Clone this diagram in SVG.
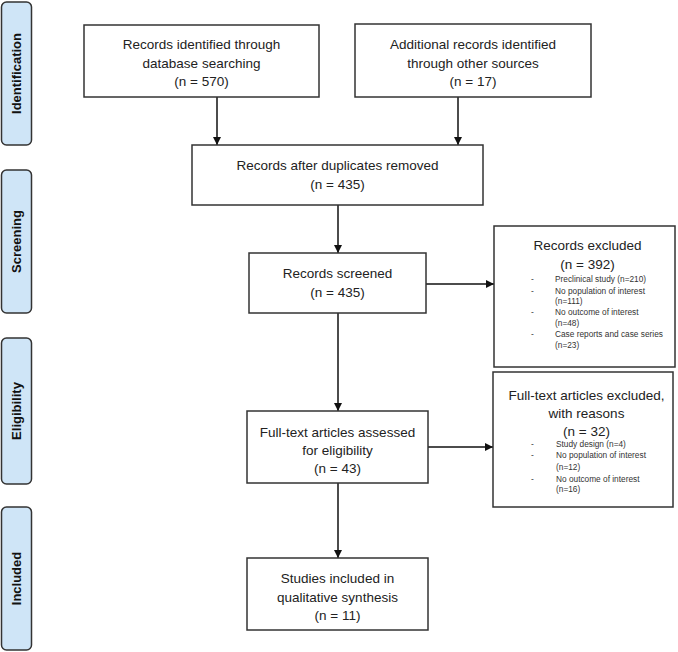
<svg xmlns="http://www.w3.org/2000/svg" width="678" height="652" viewBox="0 0 678 652">
<style>
.box{fill:#fff;stroke:#333;stroke-width:1.5}
.side{fill:#cfe5f7;stroke:#333;stroke-width:1.5}
.t{font-family:"Liberation Sans",Arial,sans-serif;font-size:13.5px;fill:#222;text-anchor:middle}
.h{font-family:"Liberation Sans",Arial,sans-serif;font-size:13.5px;fill:#222;text-anchor:middle}
.s{font-family:"Liberation Sans",Arial,sans-serif;font-size:8.3px;fill:#333}
.lab{font-family:"Liberation Sans",Arial,sans-serif;font-size:13px;font-weight:bold;fill:#111;text-anchor:middle}
.c{stroke:#111;stroke-width:1.5;fill:none;marker-end:url(#arr)}
</style>
<defs>
<marker id="arr" markerWidth="10" markerHeight="10" refX="9" refY="5" orient="auto" markerUnits="userSpaceOnUse">
<path d="M1,1 L9,5 L1,9 z" fill="#111"/>
</marker>
</defs>
<rect width="678" height="652" fill="#fff"/>
<g id="lab-identification"><rect class="side" x="1.5" y="2" width="30" height="143" rx="5"/><text class="lab" transform="translate(21,73.5) rotate(-90)">Identification</text></g>
<g id="lab-screening"><rect class="side" x="1.5" y="170" width="30" height="143" rx="5"/><text class="lab" transform="translate(21,241.5) rotate(-90)">Screening</text></g>
<g id="lab-eligibility"><rect class="side" x="1.5" y="338" width="30" height="146" rx="5"/><text class="lab" transform="translate(21,411) rotate(-90)">Eligibility</text></g>
<g id="lab-included"><rect class="side" x="1.5" y="507" width="30" height="143" rx="5"/><text class="lab" transform="translate(21,578.5) rotate(-90)">Included</text></g>
<g id="connectors">
<line class="c" x1="217" y1="97" x2="217" y2="145"/>
<line class="c" x1="458" y1="97" x2="458" y2="145"/>
<line class="c" x1="338" y1="205" x2="338" y2="253"/>
<line class="c" x1="426" y1="284" x2="494" y2="284"/>
<line class="c" x1="338" y1="313" x2="338" y2="411"/>
<line class="c" x1="428" y1="447" x2="493" y2="447"/>
<line class="c" x1="338" y1="483" x2="338" y2="558"/>
</g>
<g id="n1"><rect class="box" x="84" y="25" width="235" height="72"/>
<text class="t" x="201.5" y="49">Records identified through</text>
<text class="t" x="201.5" y="67.5">database searching</text>
<text class="t" x="201.5" y="86">(n = 570)</text></g>
<g id="n2"><rect class="box" x="355" y="24" width="236" height="73"/>
<text class="t" x="473" y="49">Additional records identified</text>
<text class="t" x="473" y="67.5">through other sources</text>
<text class="t" x="473" y="86">(n = 17)</text></g>
<g id="n3"><rect class="box" x="192" y="145" width="291" height="60"/>
<text class="t" x="337.5" y="170">Records after duplicates removed</text>
<text class="t" x="337.5" y="188.5">(n = 435)</text></g>
<g id="n4"><rect class="box" x="249" y="253" width="177" height="60"/>
<text class="t" x="337.5" y="278">Records screened</text>
<text class="t" x="337.5" y="297">(n = 435)</text></g>
<g id="n5"><rect class="box" x="494" y="226" width="181" height="141"/>
<text class="h" x="587.5" y="250">Records excluded</text>
<text class="h" x="587.5" y="268.5">(n = 392)</text>
<text class="s" x="531" y="282">-</text><text class="s" x="555" y="282">Preclinical study (n=210)</text>
<text class="s" x="531" y="294">-</text><text class="s" x="555" y="294">No population of interest</text>
<text class="s" x="555" y="304">(n=111)</text>
<text class="s" x="531" y="315">-</text><text class="s" x="555" y="315">No outcome of interest</text>
<text class="s" x="555" y="325.5">(n=48)</text>
<text class="s" x="531" y="337">-</text><text class="s" x="555" y="337">Case reports and case series</text>
<text class="s" x="555" y="348">(n=23)</text></g>
<g id="n6"><rect class="box" x="247" y="411" width="181" height="72"/>
<text class="t" x="337.5" y="437">Full-text articles assessed</text>
<text class="t" x="337.5" y="455">for eligibility</text>
<text class="t" x="337.5" y="473">(n = 43)</text></g>
<g id="n7"><rect class="box" x="493" y="372" width="180" height="135"/>
<text class="h" x="586.5" y="400">Full-text articles excluded,</text>
<text class="h" x="586.5" y="417.5">with reasons</text>
<text class="h" x="586.5" y="435.5">(n = 32)</text>
<text class="s" x="531" y="446.5">-</text><text class="s" x="556" y="446.5">Study design (n=4)</text>
<text class="s" x="531" y="458">-</text><text class="s" x="556" y="458">No population of interest</text>
<text class="s" x="556" y="470">(n=12)</text>
<text class="s" x="531" y="482">-</text><text class="s" x="556" y="482">No outcome of interest</text>
<text class="s" x="556" y="491.5">(n=16)</text></g>
<g id="n8"><rect class="box" x="247" y="558" width="181" height="72"/>
<text class="t" x="337.5" y="583">Studies included in</text>
<text class="t" x="337.5" y="602">qualitative synthesis</text>
<text class="t" x="337.5" y="620">(n = 11)</text></g>
</svg>
